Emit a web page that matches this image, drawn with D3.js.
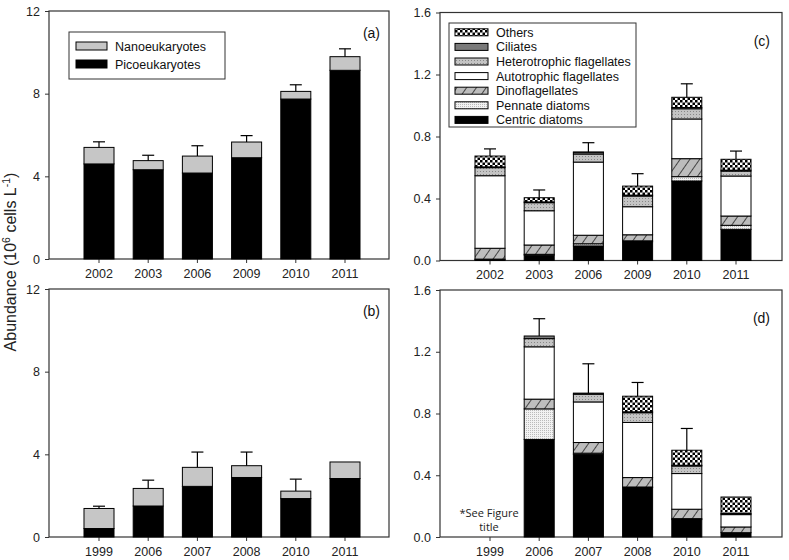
<!DOCTYPE html>
<html>
<head>
<meta charset="utf-8">
<script src="https://cdn.jsdelivr.net/npm/d3@7"></script>
<style>
  body { margin: 0; background: #fff; }
  svg { display: block; font-family: "Liberation Sans", Arial, sans-serif; }
</style>
</head>
<body>
<svg id="chart" width="789" height="560"></svg>
<script>
// ---------------- DATA ----------------
const yearsA = ["2002", "2003", "2006", "2009", "2010", "2011"];
const picoA  = [4.60, 4.32, 4.16, 4.90, 7.74, 9.13];
const nanoA  = [0.80, 0.44, 0.82, 0.76, 0.37, 0.66];
const errA   = [0.27, 0.26, 0.50, 0.31, 0.32, 0.38];

const yearsB = ["1999", "2006", "2007", "2008", "2010", "2011"];
const picoB  = [0.41, 1.50, 2.45, 2.88, 1.86, 2.83];
const nanoB  = [0.97, 0.85, 0.92, 0.57, 0.36, 0.80];
const errB   = [0.11, 0.40, 0.74, 0.66, 0.58, 0];

const groups = ["Centric diatoms", "Pennate diatoms", "Dinoflagellates",
                "Autotrophic flagellates", "Heterotrophic flagellates", "Ciliates", "Others"];

// panel c (years A)
const centricC = [0.005, 0.035, 0.094, 0.121, 0.513, 0.201];
const pennateC = [0.004, 0.005, 0.014, 0.006, 0.028, 0.026];
const dinoC    = [0.070, 0.060, 0.055, 0.039, 0.116, 0.060];
const autoC    = [0.468, 0.221, 0.472, 0.181, 0.256, 0.258];
const heteroC  = [0.052, 0.052, 0.052, 0.069, 0.066, 0.032];
const ciliC    = [0.005, 0.005, 0.011, 0.006, 0.008, 0.006];
const othersC  = [0.070, 0.027, 0.002, 0.058, 0.066, 0.070];
const errC     = [0.046, 0.050, 0.060, 0.080, 0.087, 0.053];

// panel d (years B)
const centricD = [0, 0.632, 0.535, 0.320, 0.113, 0.028];
const pennateD = [0, 0.198, 0.008, 0.004, 0.006, 0.000];
const dinoD    = [0, 0.063, 0.069, 0.061, 0.061, 0.037];
const autoD    = [0, 0.339, 0.263, 0.357, 0.231, 0.080];
const heteroD  = [0, 0.053, 0.050, 0.063, 0.049, 0.000];
const ciliD    = [0, 0.017, 0.007, 0.006, 0.005, 0.007];
const othersD  = [0, 0.000, 0.000, 0.101, 0.097, 0.107];
const errD     = [0, 0.112, 0.190, 0.089, 0.141, 0];

const ticksAB = [0, 4, 8, 12];
const ticksCD = [0, 0.4, 0.8, 1.2, 1.6];

// ---------------- SETUP ----------------
const svg = d3.select("#chart");
const defs = svg.append("defs");

function pat(id, w, h, bg) {
  const p = defs.append("pattern").attr("id", id).attr("patternUnits", "userSpaceOnUse")
    .attr("width", w).attr("height", h);
  p.append("rect").attr("width", w).attr("height", h).attr("fill", bg);
  return p;
}
// checker (others)
const pc = pat("checker", 5, 5, "#fff");
pc.append("rect").attr("x", 0).attr("y", 0).attr("width", 2.5).attr("height", 2.5).attr("fill", "#000");
pc.append("rect").attr("x", 2.5).attr("y", 2.5).attr("width", 2.5).attr("height", 2.5).attr("fill", "#000");
// hetero: gray with darker dots
const ph = pat("hetero", 3, 3, "#c4c4c4");
ph.append("rect").attr("x", 0).attr("y", 0).attr("width", 1).attr("height", 1).attr("fill", "#888");
// pennate: light with fine dots
const pp = pat("pennate", 2, 2, "#f2f2f2");
pp.append("rect").attr("x", 0).attr("y", 0).attr("width", 1).attr("height", 1).attr("fill", "#bbb");
// dino: gray with diagonal lines
const pd = defs.append("pattern").attr("id", "dino").attr("patternUnits", "userSpaceOnUse")
  .attr("width", 8).attr("height", 8).attr("patternTransform", "rotate(35)");
pd.append("rect").attr("width", 8).attr("height", 8).attr("fill", "#bdbdbd");
pd.append("line").attr("x1", 0).attr("y1", 0).attr("x2", 0).attr("y2", 8)
  .attr("stroke", "#111").attr("stroke-width", 1.4);

const fills = {
  "Centric diatoms": "#000",
  "Pennate diatoms": "url(#pennate)",
  "Dinoflagellates": "url(#dino)",
  "Autotrophic flagellates": "#fff",
  "Heterotrophic flagellates": "url(#hetero)",
  "Ciliates": "#7a7a7a",
  "Others": "url(#checker)"
};

const panels = {
  a: { x0: 49, x1: 389, y0: 11, y1: 259 },
  b: { x0: 49, x1: 389, y0: 289, y1: 537 },
  c: { x0: 440, x1: 782, y0: 12.5, y1: 260.5 },
  d: { x0: 440, x1: 782, y0: 290, y1: 537 }
};

function makeX(p, years) {
  return d3.scaleBand().domain(years)
    .range([p.x0 + 25.4, p.x0 + 320.6])
    .paddingInner(0.39).paddingOuter(0.195);
}

function drawAxes(p, x, y, ticks, fmt) {
  const g = svg.append("g");
  g.append("g").attr("transform", `translate(${p.x0},0)`)
    .call(d3.axisLeft(y).tickValues(ticks).tickFormat(fmt).tickSizeInner(4).tickSizeOuter(0).tickPadding(5))
    .call(s => s.select(".domain").remove())
    .call(s => s.selectAll("text").attr("font-size", 12.5).attr("fill", "#222").attr("font-family", "Liberation Sans, Arial, sans-serif"))
    .call(s => s.selectAll("line").attr("stroke", "#333"));
  g.append("g").attr("transform", `translate(0,${p.y1})`)
    .call(d3.axisBottom(x).tickSizeInner(4).tickSizeOuter(0).tickPadding(6))
    .call(s => s.select(".domain").remove())
    .call(s => s.selectAll("text").attr("font-size", 12.5).attr("fill", "#222").attr("font-family", "Liberation Sans, Arial, sans-serif"))
    .call(s => s.selectAll("line").attr("stroke", "#333"));
  svg.append("rect").attr("x", p.x0).attr("y", p.y0)
    .attr("width", p.x1 - p.x0).attr("height", p.y1 - p.y0)
    .attr("fill", "none").attr("stroke", "#333").attr("stroke-width", 1.2);
}

function drawStack(p, years, keys, table, fillOf, errs, x, y) {
  const stack = d3.stack().keys(keys)(table);
  const g = svg.append("g");
  stack.forEach(layer => {
    layer.forEach((d, i) => {
      if (d[1] - d[0] <= 0) return;
      g.append("rect")
        .attr("x", x(years[i])).attr("width", x.bandwidth())
        .attr("y", y(d[1])).attr("height", y(d[0]) - y(d[1]))
        .attr("fill", fillOf(layer.key)).attr("stroke", "#000").attr("stroke-width", 1);
    });
  });
  const totals = table.map(r => keys.reduce((s, k) => s + r[k], 0));
  years.forEach((yr, i) => {
    if (!errs[i]) return;
    const cx = x(yr) + x.bandwidth() / 2;
    g.append("line").attr("x1", cx).attr("x2", cx)
      .attr("y1", y(totals[i])).attr("y2", y(totals[i] + errs[i]))
      .attr("stroke", "#000").attr("stroke-width", 1.2);
    g.append("line").attr("x1", cx - 6).attr("x2", cx + 6)
      .attr("y1", y(totals[i] + errs[i])).attr("y2", y(totals[i] + errs[i]))
      .attr("stroke", "#000").attr("stroke-width", 1.2);
  });
}

// ---------------- PANELS a, b ----------------
const keysAB = ["Picoeukaryotes", "Nanoeukaryotes"];
const fillAB = k => (k === "Picoeukaryotes" ? "#000" : "#c6c6c6");

[["a", yearsA, picoA, nanoA, errA], ["b", yearsB, picoB, nanoB, errB]].forEach(([id, yrs, pico, nano, err]) => {
  const p = panels[id];
  const x = makeX(p, yrs);
  const y = d3.scaleLinear().domain([0, 12]).range([p.y1, p.y0]);
  const table = yrs.map((yr, i) => ({ Picoeukaryotes: pico[i], Nanoeukaryotes: nano[i] }));
  drawAxes(p, x, y, ticksAB, d3.format("d"));
  drawStack(p, yrs, keysAB, table, fillAB, err, x, y);
  svg.append("text").attr("x", p.x1 - 9).attr("y", p.y0 + 27).attr("text-anchor", "end")
    .attr("font-size", 14).attr("fill", "#111").text(`(${id})`);
});

// ---------------- PANELS c, d ----------------
[["c", yearsA, [centricC, pennateC, dinoC, autoC, heteroC, ciliC, othersC], errC],
 ["d", yearsB, [centricD, pennateD, dinoD, autoD, heteroD, ciliD, othersD], errD]].forEach(([id, yrs, series, err]) => {
  const p = panels[id];
  const x = makeX(p, yrs);
  const y = d3.scaleLinear().domain([0, 1.6]).range([p.y1, p.y0]);
  const table = yrs.map((yr, i) => {
    const r = {};
    groups.forEach((gname, j) => r[gname] = series[j][i]);
    return r;
  });
  drawAxes(p, x, y, ticksCD, d3.format(".1f"));
  drawStack(p, yrs, groups, table, k => fills[k], err, x, y);
  svg.append("text").attr("x", p.x1 - 12).attr("y", p.y0 + 33).attr("text-anchor", "end")
    .attr("font-size", 14).attr("fill", "#111").text(`(${id})`);
  if (id === "d") {
    const cx = x("1999") + x.bandwidth() / 2;
    const t = svg.append("text").attr("text-anchor", "middle")
      .attr("font-family", "Open Sans, sans-serif").attr("font-size", 11).attr("fill", "#222");
    t.append("tspan").attr("x", cx - 1).attr("y", p.y1 - 20).text("*See Figure");
    t.append("tspan").attr("x", cx - 1).attr("y", p.y1 - 6).text("title");
  }
});

// ---------------- LEGENDS ----------------
{
  const lg = svg.append("g");
  lg.append("rect").attr("x", 69).attr("y", 32).attr("width", 156).attr("height", 47)
    .attr("fill", "#fff").attr("stroke", "#333").attr("stroke-width", 1);
  const items = ["Nanoeukaryotes", "Picoeukaryotes"];
  items.forEach((k, i) => {
    const cy = 46 + i * 18;
    lg.append("rect").attr("x", 76).attr("y", cy - 4).attr("width", 31).attr("height", 8)
      .attr("fill", fillAB(k)).attr("stroke", "#000").attr("stroke-width", 1);
    lg.append("text").attr("x", 115).attr("y", cy + 4.5).attr("font-size", 12.5).attr("fill", "#111").text(k);
  });
}
{
  const lg = svg.append("g");
  lg.append("rect").attr("x", 449).attr("y", 23).attr("width", 187).attr("height", 104)
    .attr("fill", "#fff").attr("stroke", "#333").attr("stroke-width", 1);
  const items = groups.slice().reverse();
  items.forEach((k, i) => {
    const cy = 32.3 + i * 14.6;
    lg.append("rect").attr("x", 455).attr("y", cy - 3.5).attr("width", 33).attr("height", 7)
      .attr("fill", fills[k]).attr("stroke", "#000").attr("stroke-width", 1);
    lg.append("text").attr("x", 496).attr("y", cy + 4.5).attr("font-size", 12.5).attr("fill", "#111").text(k);
  });
}

// ---------------- Y LABEL ----------------
{
  const t = svg.append("text").attr("transform", "translate(16,262) rotate(-90)")
    .attr("text-anchor", "middle").attr("font-size", 16).attr("fill", "#222");
  t.append("tspan").text("Abundance (10");
  t.append("tspan").attr("font-size", 10.5).attr("dy", -6).text("6");
  t.append("tspan").attr("dy", 6).text(" cells L");
  t.append("tspan").attr("font-size", 10.5).attr("dy", -6).text("-1");
  t.append("tspan").attr("dy", 6).text(")");
}
</script>
</body>
</html>
